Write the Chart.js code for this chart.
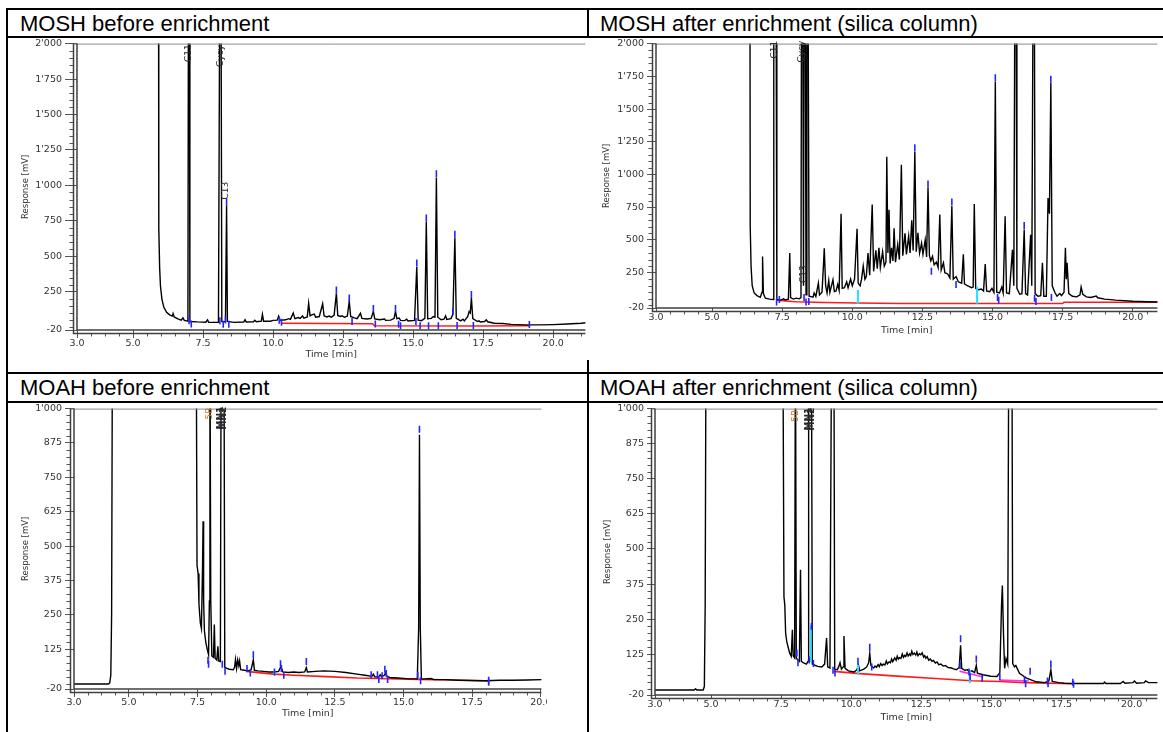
<!DOCTYPE html>
<html>
<head>
<meta charset="utf-8">
<title>MOSH / MOAH chromatograms</title>
<script src="https://cdn.jsdelivr.net/npm/chart.js@4.4.1/dist/chart.umd.min.js"></script>
<style>
  html, body { margin: 0; padding: 0; background: #fff; }
  body { width: 1163px; height: 732px; position: relative; overflow: hidden; font-family: "Liberation Sans", Arial, sans-serif; }
  .rule { position: absolute; background: #000; }
  .head { position: absolute; font-size: 22px; line-height: 22px; color: #000; white-space: nowrap; }
  canvas { position: absolute; background: #fff; }
</style>
</head>
<body>
<div class="rule" style="left:6px;top:8px;width:1157px;height:2px"></div>
<div class="rule" style="left:6px;top:36px;width:1157px;height:2px"></div>
<div class="rule" style="left:6px;top:372px;width:1157px;height:2px"></div>
<div class="rule" style="left:6px;top:401px;width:1157px;height:2px"></div>
<div class="rule" style="left:6px;top:8px;width:2px;height:724px"></div>
<div class="rule" style="left:587px;top:8px;width:2px;height:724px"></div>

<div class="head" style="left:20px;top:13px">MOSH before enrichment</div>
<div class="head" style="left:600px;top:13px">MOSH after enrichment (silica column)</div>
<div class="head" style="left:20px;top:377px">MOAH before enrichment</div>
<div class="head" style="left:600px;top:377px">MOAH after enrichment (silica column)</div>

<canvas id="moshBefore" width="583" height="322" style="left:8px;top:38px"></canvas>
<canvas id="moshAfter" width="574" height="300" style="left:589px;top:38px"></canvas>
<canvas id="moahBefore" width="539" height="329" style="left:8px;top:403px"></canvas>
<canvas id="moahAfter" width="574" height="329" style="left:589px;top:403px"></canvas>

<script>
// axis ticks
const timeTicks = [3, 5, 7.5, 10, 12.5, 15, 17.5, 20];
const timeLabels = ['3.0', '5.0', '7.5', '10.0', '12.5', '15.0', '17.5', '20.0'];
const moshTicks = [-20, 250, 500, 750, 1000, 1250, 1500, 1750, 2000];
const moshLabels = ['-20', '250', '500', '750', "1'000", "1'250", "1'500", "1'750", "2'000"];
const moahTicks = [-20, 125, 250, 375, 500, 625, 750, 875, 1000];
const moahLabels = ['-20', '125', '250', '375', '500', '625', '750', '875', "1'000"];

// MOSH before enrichment: [time min, response mV]
const moshBeforeTrace = [[3.0, 2600], [5.91, 2600], [5.92, 700], [5.95, 420], [5.98, 290], [6.03, 200], [6.1, 140], [6.2, 105], [6.32, 85], [6.4, 78], [6.43, 96], [6.47, 72], [6.6, 58], [6.72, 50], [6.78, 66], [6.83, 48], [6.96, 42], [6.98, 2600], [7.01, 2600], [7.03, 40], [7.3, 37], [7.6, 35], [7.66, 52], [7.7, 35], [8.05, 34], [8.1, 2600], [8.14, 2600], [8.17, 40], [8.3, 38], [8.34, 860], [8.37, 40], [8.6, 34], [8.95, 36], [9.0, 52], [9.04, 36], [9.3, 38], [9.35, 48], [9.4, 38], [9.58, 42], [9.62, 90], [9.66, 42], [9.9, 42], [10.0, 48], [10.15, 50], [10.2, 78], [10.25, 48], [10.45, 52], [10.55, 60], [10.62, 55], [10.72, 100], [10.78, 60], [10.9, 68], [10.97, 62], [11.05, 80], [11.1, 64], [11.22, 72], [11.27, 168], [11.32, 80], [11.4, 88], [11.47, 92], [11.52, 70], [11.65, 75], [11.77, 165], [11.82, 80], [11.92, 72], [12.0, 78], [12.08, 70], [12.18, 85], [12.26, 238], [12.31, 82], [12.4, 76], [12.46, 80], [12.55, 70], [12.65, 78], [12.72, 182], [12.77, 75], [12.9, 66], [13.0, 60], [13.12, 98], [13.17, 62], [13.35, 58], [13.5, 62], [13.58, 110], [13.63, 58], [13.8, 52], [13.98, 58], [14.02, 48], [14.2, 50], [14.32, 62], [14.37, 110], [14.42, 60], [14.5, 64], [14.55, 48], [14.7, 46], [14.77, 56], [14.82, 44], [15.05, 48], [15.13, 426], [15.18, 50], [15.3, 46], [15.42, 62], [15.47, 745], [15.52, 60], [15.65, 62], [15.72, 75], [15.78, 70], [15.83, 1055], [15.88, 70], [16.0, 52], [16.1, 56], [16.16, 80], [16.2, 54], [16.35, 60], [16.42, 90], [16.49, 630], [16.54, 62], [16.7, 44], [16.78, 56], [16.83, 44], [16.95, 75], [17.0, 110], [17.04, 100], [17.08, 205], [17.13, 60], [17.3, 40], [17.35, 44], [17.4, 36], [17.55, 40], [17.61, 52], [17.66, 38], [17.9, 28], [18.2, 26], [18.5, 20], [19.0, 16], [19.5, 16], [20.0, 18], [20.5, 22], [21.0, 28], [21.2, 32]];
const moshBeforeBaseline = [[10.28, 28], [13.55, 24], [13.62, 10], [17.25, 8], [19.15, 10]];
const moshBeforeMarks = [[7.0, 45], [7.08, 22], [8.1, 45], [8.22, 20], [8.3, 50], [8.34, 885], [8.42, 20], [10.22, 48], [10.3, 35], [12.26, 262], [12.72, 205], [12.82, 40], [13.58, 132], [13.65, 22], [14.37, 132], [14.48, 20], [14.55, 10], [15.1, 40], [15.13, 452], [15.25, 10], [15.47, 770], [15.55, 10], [15.83, 1082], [15.9, 10], [16.42, 112], [16.49, 655], [16.57, 12], [17.08, 230], [17.15, 12], [19.15, 18]];
// peak names: [name, time, response at the foot of the text]
const moshBeforeNames = [['C11', 6.99, 1870], ['Cycy', 8.12, 1835], ['C13', 8.32, 900]];

// MOSH after enrichment
const moshAfterTrace = [[3.0, 2600], [6.35, 2600], [6.36, 600], [6.39, 300], [6.43, 150], [6.5, 95], [6.6, 75], [6.72, 62], [6.78, 100], [6.8, 373], [6.83, 90], [6.9, 55], [7.05, 48], [7.18, 45], [7.2, 2600], [7.28, 2600], [7.31, 45], [7.45, 40], [7.55, 50], [7.6, 42], [7.72, 48], [7.77, 400], [7.8, 60], [7.9, 48], [8.0, 55], [8.1, 50], [8.17, 60], [8.19, 2600], [8.23, 2600], [8.26, 150], [8.28, 2600], [8.32, 2600], [8.35, 80], [8.38, 2600], [8.42, 2600], [8.46, 70], [8.6, 62], [8.64, 95], [8.7, 68], [8.79, 170], [8.83, 80], [8.92, 100], [8.97, 300], [9.0, 437], [9.05, 150], [9.1, 95], [9.16, 190], [9.2, 100], [9.31, 196], [9.36, 105], [9.42, 110], [9.48, 160], [9.53, 115], [9.6, 700], [9.64, 130], [9.72, 135], [9.8, 180], [9.85, 135], [9.94, 200], [10.0, 150], [10.08, 200], [10.17, 585], [10.21, 170], [10.28, 150], [10.33, 200], [10.39, 300], [10.45, 200], [10.5, 220], [10.56, 400], [10.62, 230], [10.71, 770], [10.76, 260], [10.84, 420], [10.89, 280], [10.95, 440], [11.0, 290], [11.08, 410], [11.14, 300], [11.2, 330], [11.23, 1135], [11.27, 400], [11.31, 730], [11.35, 320], [11.4, 440], [11.45, 340], [11.49, 590], [11.54, 330], [11.62, 465], [11.68, 350], [11.75, 1075], [11.8, 380], [11.88, 550], [11.93, 390], [12.01, 530], [12.06, 400], [12.12, 650], [12.17, 420], [12.23, 1175], [12.28, 410], [12.34, 555], [12.4, 400], [12.47, 475], [12.52, 390], [12.6, 500], [12.65, 370], [12.7, 900], [12.75, 380], [12.8, 340], [12.86, 375], [12.92, 310], [13.0, 330], [13.06, 290], [13.12, 695], [13.17, 270], [13.25, 325], [13.3, 250], [13.4, 240], [13.48, 210], [13.55, 760], [13.6, 200], [13.7, 220], [13.78, 180], [13.9, 170], [13.96, 390], [14.0, 165], [14.1, 150], [14.16, 145], [14.25, 135], [14.31, 140], [14.35, 775], [14.4, 130], [14.5, 120], [14.6, 125], [14.68, 110], [14.74, 315], [14.79, 110], [14.9, 105], [14.98, 130], [15.05, 100], [15.1, 1710], [15.15, 100], [15.25, 95], [15.33, 140], [15.38, 95], [15.45, 680], [15.5, 95], [15.6, 90], [15.71, 425], [15.76, 150], [15.8, 2600], [15.84, 2600], [15.87, 130], [15.97, 85], [16.05, 90], [16.13, 580], [16.18, 90], [16.25, 80], [16.36, 540], [16.4, 150], [16.45, 2600], [16.49, 2600], [16.52, 90], [16.62, 70], [16.72, 75], [16.78, 325], [16.83, 70], [16.92, 70], [16.98, 820], [17.03, 700], [17.08, 1700], [17.13, 150], [17.22, 100], [17.3, 70], [17.4, 90], [17.46, 75], [17.55, 100], [17.6, 440], [17.63, 200], [17.66, 325], [17.72, 90], [17.85, 70], [18.0, 65], [18.12, 80], [18.16, 140], [18.22, 85], [18.35, 65], [18.5, 60], [18.7, 72], [18.75, 58], [19.0, 48], [19.4, 40], [20.0, 32], [20.5, 28], [21.0, 26]];
const moshAfterBaseline = [[7.3, 40], [7.85, 30], [8.0, 28], [9.0, 22], [10.2, 18], [11.7, 14], [17.5, 14], [17.55, 24], [21.0, 24]];
const moshAfterMarks = [[7.3, 25], [7.4, 45], [8.28, 60], [8.35, 25], [8.45, 30], [12.23, 1205], [12.7, 928], [12.82, 260], [13.55, 790], [13.7, 160], [15.1, 1740], [15.18, 60], [15.22, 40], [16.13, 610], [16.5, 55], [16.55, 30], [17.08, 1728], [17.1, 60]];
const moshAfterDrops = [[10.2, 12, 118], [14.45, 12, 145]];
const moshAfterNames = [['C11', 7.22, 1886], ['Cycy', 8.2, 1855], ['C13', 8.27, 171]];

// MOAH before enrichment
const moahBeforeTrace = [[3.0, -2], [4.25, -2], [4.3, 2], [4.34, 30], [4.37, 250], [4.4, 1300], [7.45, 1300], [7.48, 430], [7.52, 400], [7.55, 290], [7.6, 220], [7.64, 200], [7.68, 420], [7.7, 590], [7.72, 300], [7.75, 190], [7.8, 150], [7.85, 125], [7.9, 105], [7.93, 300], [7.95, 1300], [7.98, 300], [8.02, 100], [8.08, 95], [8.11, 215], [8.14, 92], [8.2, 85], [8.24, 135], [8.27, 82], [8.33, 80], [8.36, 1300], [8.46, 1300], [8.49, 60], [8.55, 56], [8.65, 52], [8.8, 50], [8.85, 60], [8.88, 88], [8.92, 55], [8.96, 86], [9.0, 65], [9.03, 82], [9.07, 50], [9.2, 48], [9.35, 46], [9.45, 50], [9.53, 86], [9.57, 48], [9.7, 46], [9.9, 44], [10.1, 42], [10.3, 42], [10.45, 44], [10.54, 62], [10.6, 42], [10.8, 40], [11.0, 42], [11.2, 40], [11.4, 42], [11.46, 58], [11.5, 42], [11.8, 44], [12.1, 46], [12.5, 44], [12.9, 40], [13.3, 34], [13.6, 30], [13.85, 26], [13.9, 34], [13.95, 24], [14.1, 24], [14.15, 32], [14.2, 24], [14.3, 30], [14.35, 40], [14.4, 26], [14.5, 22], [14.8, 20], [15.2, 17], [15.5, 17], [15.55, 200], [15.58, 905], [15.61, 200], [15.65, 16], [16.0, 18], [16.1, 14], [16.5, 14], [17.0, 12], [17.5, 11], [18.0, 10], [18.5, 12], [19.0, 12], [19.5, 13], [20.05, 14]];
const moahBeforeBaseline = [[9.26, 44], [10.27, 34], [11.0, 30], [12.2, 25], [13.3, 20], [15.55, 15], [16.8, 13], [18.1, 9]];
const moahBeforeMarks = [[7.88, 85], [7.9, 70], [8.4, 70], [8.5, 45], [9.3, 55], [9.42, 38], [9.53, 105], [10.3, 42], [10.52, 72], [10.55, 55], [10.64, 30], [11.46, 80], [13.82, 32], [14.05, 32], [14.1, 15], [14.22, 28], [14.32, 52], [14.37, 36], [14.42, 15], [15.52, 30], [15.58, 925], [15.62, 10], [18.1, 12], [18.1, 5]];
const moahBeforeDrops = [[10.3, 28, 45]];
const moahBeforeNames = [['5B', 7.93, 960], ['MN1', 8.35, 924], ['MN2', 8.45, 924]];

// MOAH after enrichment
const moahAfterTrace = [[3.0, -2], [4.4, -2], [4.44, 2], [4.5, -2], [4.72, -2], [4.76, 10], [4.79, 300], [4.82, 1300], [7.56, 1300], [7.6, 330], [7.63, 300], [7.66, 200], [7.7, 170], [7.75, 150], [7.8, 130], [7.86, 118], [7.9, 212], [7.93, 120], [7.98, 112], [8.01, 1300], [8.04, 112], [8.1, 104], [8.15, 100], [8.19, 426], [8.22, 100], [8.3, 94], [8.4, 90], [8.46, 100], [8.48, 1300], [8.58, 1300], [8.61, 90], [8.7, 86], [8.8, 82], [8.95, 80], [9.05, 90], [9.12, 183], [9.16, 80], [9.24, 76], [9.3, 1300], [9.38, 1300], [9.41, 72], [9.5, 70], [9.55, 80], [9.6, 95], [9.65, 72], [9.71, 80], [9.74, 190], [9.78, 75], [9.9, 66], [10.1, 62], [10.2, 70], [10.26, 86], [10.3, 66], [10.45, 72], [10.55, 80], [10.62, 95], [10.66, 128], [10.7, 85], [10.8, 76], [10.85, 83], [10.9, 79], [10.96, 88], [11.0, 81], [11.05, 92], [11.1, 85], [11.14, 90], [11.2, 87], [11.25, 101], [11.29, 91], [11.35, 98], [11.4, 95], [11.44, 108], [11.48, 99], [11.55, 112], [11.6, 104], [11.64, 118], [11.68, 108], [11.72, 113], [11.77, 110], [11.82, 126], [11.86, 114], [11.9, 121], [11.94, 117], [11.99, 130], [12.03, 119], [12.08, 126], [12.12, 121], [12.16, 136], [12.2, 124], [12.25, 129], [12.3, 122], [12.34, 133], [12.38, 120], [12.43, 127], [12.48, 123], [12.53, 130], [12.58, 115], [12.62, 120], [12.66, 111], [12.71, 117], [12.76, 104], [12.82, 108], [12.88, 100], [12.93, 103], [13.0, 94], [13.06, 98], [13.12, 88], [13.2, 90], [13.28, 83], [13.36, 85], [13.45, 78], [13.55, 77], [13.65, 73], [13.75, 70], [13.85, 78], [13.9, 157], [13.94, 75], [14.05, 68], [14.15, 70], [14.2, 62], [14.3, 66], [14.4, 60], [14.46, 86], [14.5, 58], [14.7, 52], [14.98, 47], [15.2, 46], [15.3, 60], [15.36, 300], [15.39, 370], [15.43, 200], [15.47, 75], [15.52, 110], [15.58, 90], [15.62, 1300], [15.73, 1300], [15.76, 92], [15.82, 80], [15.87, 85], [16.0, 57], [16.25, 40], [16.6, 27], [16.9, 24], [17.05, 30], [17.12, 70], [17.17, 28], [17.4, 24], [17.6, 22], [18.0, 21], [18.5, 21], [19.0, 21], [19.03, 26], [19.08, 21], [19.6, 21], [19.7, 28], [19.76, 22], [20.05, 24], [20.1, 30], [20.18, 22], [20.45, 24], [20.5, 30], [20.6, 24], [20.95, 24]];
const moahAfterBaseline = [[9.38, 64], [10.3, 56], [11.5, 48], [13.0, 39], [14.3, 31], [15.3, 28], [16.2, 24], [17.9, 20]];
const moahAfterSplit = [[13.86, 65], [14.71, 44], null, [15.28, 33], [16.33, 30]];
const moahAfterMarks = [[8.06, 130], [8.1, 95], [8.5, 105], [8.58, 225], [8.65, 92], [9.35, 68], [9.42, 58], [10.24, 100], [10.66, 150], [10.73, 80], [13.88, 85], [13.9, 180], [14.2, 62], [14.24, 45], [14.46, 108], [14.67, 40], [15.3, 45], [16.18, 35], [16.22, 20], [16.38, 65], [17.0, 30], [17.02, 20], [17.12, 90], [17.9, 25], [17.93, 18]];
const moahAfterDrops = [[8.55, 97, 228], [10.24, 52, 88], [14.23, 22, 68]];
const moahAfterNames = [['5B', 8.0, 953], ['MN1', 8.47, 922], ['MN2', 8.57, 922]];

const nameColors = { '5B': '#c47a2c' };

Chart.defaults.font.family = '"DejaVu Sans", sans-serif';

function pts(list) {
    let last = 0;
    return list.map(p => {
        if (p === null) return { x: last, y: null };
        last = p[0];
        return { x: p[0], y: p[1] };
    });
}

function dropPts(list) {
    const out = [];
    list.forEach(([t, lo, hi]) => out.push({ x: t, y: lo }, { x: t, y: hi }, { x: t, y: null }));
    return out;
}

// double axis lines, grey top frame and the small minor ticks
const chromFrame = {
    id: 'chromFrame',
    afterDatasetsDraw(chart, args, o) {
        const { ctx, chartArea: a, scales: { x, y } } = chart;
        const gap = 3.5;
        ctx.save();
        ctx.lineWidth = 1;
        ctx.strokeStyle = '#8c8c8c';
        ctx.beginPath();
        ctx.moveTo(a.left - gap, a.top + 0.5);
        ctx.lineTo(a.right, a.top + 0.5);
        ctx.stroke();

        ctx.strokeStyle = '#555';
        ctx.beginPath();
        for (let v = 0; v <= y.max; v += o.yMinor) {
            if (o.yMajor.includes(v)) continue;
            const py = Math.round(y.getPixelForValue(v)) + 0.5;
            ctx.moveTo(a.left - gap - 4, py);
            ctx.lineTo(a.left - gap, py);
        }
        for (let v = 3.5; v <= x.max; v += 0.5) {
            if (timeTicks.includes(v)) continue;
            const px = Math.round(x.getPixelForValue(v)) + 0.5;
            ctx.moveTo(px, a.bottom + gap);
            ctx.lineTo(px, a.bottom + gap + 3);
        }
        ctx.stroke();

        ctx.strokeStyle = '#404040';
        ctx.lineWidth = 1.5;
        ctx.beginPath();
        ctx.moveTo(a.left, a.top);
        ctx.lineTo(a.left, a.bottom);
        ctx.lineTo(a.right, a.bottom);
        ctx.moveTo(a.left - gap, a.top);
        ctx.lineTo(a.left - gap, a.bottom + gap);
        ctx.lineTo(a.right, a.bottom + gap);
        ctx.stroke();
        ctx.restore();
    }
};

// rotated peak names, reading upwards, centred on the peak
const peakNames = {
    id: 'peakNames',
    afterDatasetsDraw(chart, args, o) {
        const { ctx, scales: { x, y } } = chart;
        o.items.forEach(([name, t, v]) => {
            ctx.save();
            ctx.translate(x.getPixelForValue(t), y.getPixelForValue(v));
            ctx.rotate(-Math.PI / 2);
            ctx.font = (name.startsWith('MN') ? 'bold ' : '') + '9px "DejaVu Sans"';
            ctx.fillStyle = nameColors[name] || '#2a2a2a';
            ctx.textAlign = 'left';
            ctx.textBaseline = 'middle';
            ctx.fillText(name, 0, 0);
            ctx.restore();
        });
    }
};

function chromChart(id, p) {
    const datasets = [
        { data: pts(p.marks), showLine: false, pointStyle: 'line', pointRotation: 90, pointRadius: 3.5,
          pointBorderColor: '#2424ff', pointBorderWidth: 1.6, order: 0 },
        { data: dropPts(p.drops), borderColor: '#22e0ff', borderWidth: 2, spanGaps: false, order: 0 },
        { data: pts(p.trace), borderColor: '#000', borderWidth: 1.4, order: 1 },
        { data: pts(p.base), borderColor: '#ff1a1a', borderWidth: 1.6, order: 2 }
    ];
    if (p.split) datasets.push({ data: pts(p.split), borderColor: '#ff33ee', borderWidth: 1.6, spanGaps: false, order: 1 });

    new Chart(document.getElementById(id), {
        type: 'line',
        data: { datasets },
        options: {
            responsive: false,
            animation: false,
            events: [],
            layout: { padding: { top: p.padTop, right: p.padRight, left: 0, bottom: 0 } },
            elements: { point: { radius: 0 }, line: { tension: 0 } },
            plugins: {
                legend: { display: false },
                tooltip: { enabled: false },
                chromFrame: { yMinor: p.yMinor, yMajor: p.yTicks },
                peakNames: { items: p.names }
            },
            scales: {
                x: {
                    type: 'linear', min: 3, max: p.xMax,
                    afterBuildTicks: s => { s.ticks = timeTicks.map(v => ({ value: v })); },
                    afterFit: s => { s.height = p.xHeight; s.paddingLeft = 0; s.paddingRight = 0; },
                    grid: { drawOnChartArea: false, tickLength: p.xTick, color: '#555' },
                    border: { display: false },
                    ticks: { autoSkip: false, maxRotation: 0, padding: 0, color: '#333', font: { size: 9.5 },
                             callback: (v, i) => timeLabels[i] },
                    title: { display: true, text: 'Time [min]', color: '#333', font: { size: 9.5 },
                             padding: { top: 0, bottom: p.xTitlePad } }
                },
                y: {
                    type: 'linear', min: -20, max: p.yMax,
                    afterBuildTicks: s => { s.ticks = p.yTicks.map(v => ({ value: v })); },
                    afterFit: s => { s.width = p.yWidth; s.paddingTop = 0; s.paddingBottom = 0; },
                    grid: { drawOnChartArea: false, tickLength: p.yTick, color: '#555' },
                    border: { display: false },
                    ticks: { autoSkip: false, padding: 3, color: '#333', font: { size: 9.5 },
                             callback: (v, i) => p.yLabels[i] },
                    title: { display: true, text: 'Response [mV]', color: '#333', font: { size: 8.5 },
                             padding: { top: p.yTitlePad, bottom: 0 } }
                }
            }
        },
        plugins: [chromFrame, peakNames]
    });
}

chromChart('moshBefore', {
    trace: moshBeforeTrace, base: moshBeforeBaseline, marks: moshBeforeMarks, drops: [], names: moshBeforeNames,
    xMax: 21.15, yMax: 2000, yTicks: moshTicks, yLabels: moshLabels, yMinor: 50,
    yWidth: 69, xHeight: 30, padTop: 5, padRight: 2, yTick: 12, xTick: 8, yTitlePad: 13, xTitlePad: 0
});
chromChart('moshAfter', {
    trace: moshAfterTrace, base: moshAfterBaseline, marks: moshAfterMarks, drops: moshAfterDrops, names: moshAfterNames,
    xMax: 20.88, yMax: 2000, yTicks: moshTicks, yLabels: moshLabels, yMinor: 50,
    yWidth: 67, xHeight: 30, padTop: 5, padRight: 0, yTick: 9, xTick: 4, yTitlePad: 13, xTitlePad: 2
});
chromChart('moahBefore', {
    trace: moahBeforeTrace, base: moahBeforeBaseline, marks: moahBeforeMarks, drops: moahBeforeDrops, names: moahBeforeNames,
    xMax: 20.02, yMax: 1000, yTicks: moahTicks, yLabels: moahLabels, yMinor: 25,
    yWidth: 66, xHeight: 43, padTop: 4, padRight: 0, yTick: 9, xTick: 8, yTitlePad: 13, xTitlePad: 13
});
chromChart('moahAfter', {
    trace: moahAfterTrace, base: moahAfterBaseline, marks: moahAfterMarks, drops: moahAfterDrops, names: moahAfterNames,
    split: moahAfterSplit,
    xMax: 20.92, yMax: 1000, yTicks: moahTicks, yLabels: moahLabels, yMinor: 25,
    yWidth: 66, xHeight: 37, padTop: 4, padRight: 0, yTick: 8, xTick: 4, yTitlePad: 14, xTitlePad: 9
});
</script>
</body>
</html>
